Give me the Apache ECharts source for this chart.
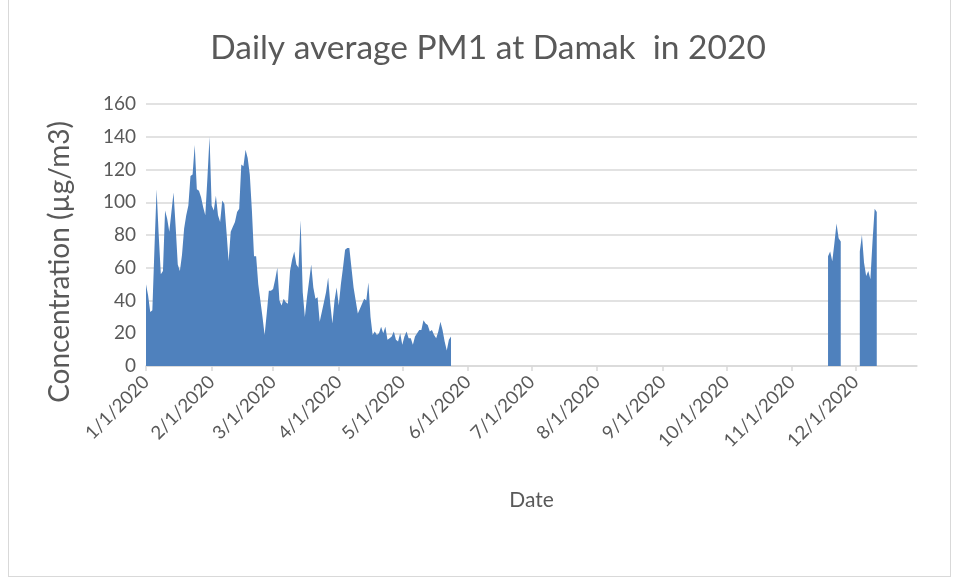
<!DOCTYPE html>
<html>
<head>
<meta charset="utf-8">
<title>Daily average PM1 at Damak in 2020</title>
<script src="https://cdn.jsdelivr.net/npm/echarts@6/dist/echarts.min.js"></script>
<style>
  html, body { margin: 0; padding: 0; background: #fff; }
  #chart { width: 956px; height: 578px; }
  #frame { position: absolute; left: 8px; top: -1px; width: 941px; height: 576px; border: 1px solid #d9d9d9; pointer-events: none; }
</style>
</head>
<body>
<div id="chart"></div>
<div id="frame"></div>
<script>
// axis runs 1/1/2020 .. 12/30/2020, one category per day
var axisStart = '2020-01-01'
var axisEnd = '2020-12-30'
var yTicks = [0, 20, 40, 60, 80, 100, 120, 140, 160]

// measured days, each block starts on the given date
var block1Start = '2020-01-01'
var block1 = [
  50, 43, 33, 34, 72, 108, 80, 56, 58, 95,
  90, 82, 94, 106, 85, 62, 58, 68, 84, 92,
  98, 116, 117, 135, 108, 107, 103, 97, 92, 115,
  140, 98, 95, 104, 92, 88, 101, 99, 82, 64,
  82, 85, 88, 94, 96, 123, 122, 132, 127, 117,
  95, 67, 67, 50, 40, 30, 19, 32, 46, 46,
  47, 53, 60, 40, 37, 41, 39, 38, 58, 65,
  70, 62, 60, 89, 45, 30, 42, 52, 62, 48,
  41, 42, 27, 33, 39, 45, 54, 38, 26, 40,
  48, 37, 50, 60, 71, 72, 72, 60, 48, 40,
  32, 35, 38, 41, 40, 51, 30, 19, 21, 19,
  20, 24, 20, 24, 16, 17, 18, 21, 16, 15,
  20, 13, 18, 21, 17, 17, 13, 18, 20, 22,
  22, 28, 26, 25, 21, 22, 19, 17, 21, 27,
  22, 15, 9.5, 16, 18
]
var block2Start = '2020-11-18'
var block2 = [67, 70, 64, 75, 87, 78, 76]
var block3Start = '2020-12-03'
var block3 = [70, 80, 63, 55, 58, 53, 76, 96, 94]

var DAY = 86400000
function toTime (s) { return Date.parse(s + 'T00:00:00Z') }
function fmt (t) {
  var d = new Date(t)
  return (d.getUTCMonth() + 1) + '/' + d.getUTCDate() + '/' + d.getUTCFullYear()
}

var dates = []
var values = []
for (var t = toTime(axisStart); t <= toTime(axisEnd); t += DAY) {
  dates.push(fmt(t))
  values.push(null)
}
function putBlock (start, arr) {
  var i0 = Math.round((toTime(start) - toTime(axisStart)) / DAY)
  for (var k = 0; k < arr.length; k++) values[i0 + k] = arr[k]
}
putBlock(block1Start, block1)
putBlock(block2Start, block2)
putBlock(block3Start, block3)

function monthStart (idx, label) { return /^\d+\/1\//.test(label) }

var font = 'Lato, "Open Sans", sans-serif'
var grey = '#595959'
var chart = echarts.init(document.getElementById('chart'), null, { renderer: 'canvas' })
chart.setOption({
  animation: false,
  textStyle: { fontFamily: font },
  graphic: [{
    // chart title
    type: 'text',
    x: 488,
    y: 48,
    style: {
      text: 'Daily average PM1 at Damak  in 2020',
      fill: grey,
      font: '33.5px ' + font,
      textAlign: 'center',
      textVerticalAlign: 'middle'
    }
  }, {
    // y axis title
    type: 'text',
    x: 60,
    y: 262,
    rotation: Math.PI / 2,
    style: {
      text: 'Concentration (µg/m3)',
      fill: grey,
      font: '28px ' + font,
      textAlign: 'center',
      textVerticalAlign: 'middle'
    }
  }],
  grid: { left: 146, right: 39, top: 104, bottom: 212, containLabel: false },
  xAxis: {
    type: 'category',
    data: dates,
    boundaryGap: false,
    name: 'Date',
    nameLocation: 'middle',
    nameGap: 124,
    nameTextStyle: { fontSize: 21, color: grey, fontFamily: font },
    axisLine: { lineStyle: { color: '#d9d9d9', width: 1.5 } },
    axisTick: { show: true, interval: monthStart, length: 5, lineStyle: { color: '#d9d9d9', width: 1.5 } },
    axisLabel: { interval: monthStart, rotate: 45, fontSize: 18.5, color: grey, margin: 13, fontFamily: font },
    splitLine: { show: false }
  },
  yAxis: {
    type: 'value',
    min: yTicks[0],
    max: yTicks[yTicks.length - 1],
    interval: yTicks[1] - yTicks[0],
    axisLine: { show: false },
    axisTick: { show: false },
    axisLabel: { fontSize: 19, color: grey, margin: 10, fontFamily: font },
    splitLine: { lineStyle: { color: '#d9d9d9', width: 1.5 } }
  },
  series: [{
    name: 'PM1',
    type: 'line',
    data: values,
    connectNulls: false,
    symbol: 'none',
    lineStyle: { width: 0 },
    areaStyle: { color: '#4f81bd', opacity: 1 },
    itemStyle: { color: '#4f81bd' }
  }]
})
</script>
</body>
</html>
